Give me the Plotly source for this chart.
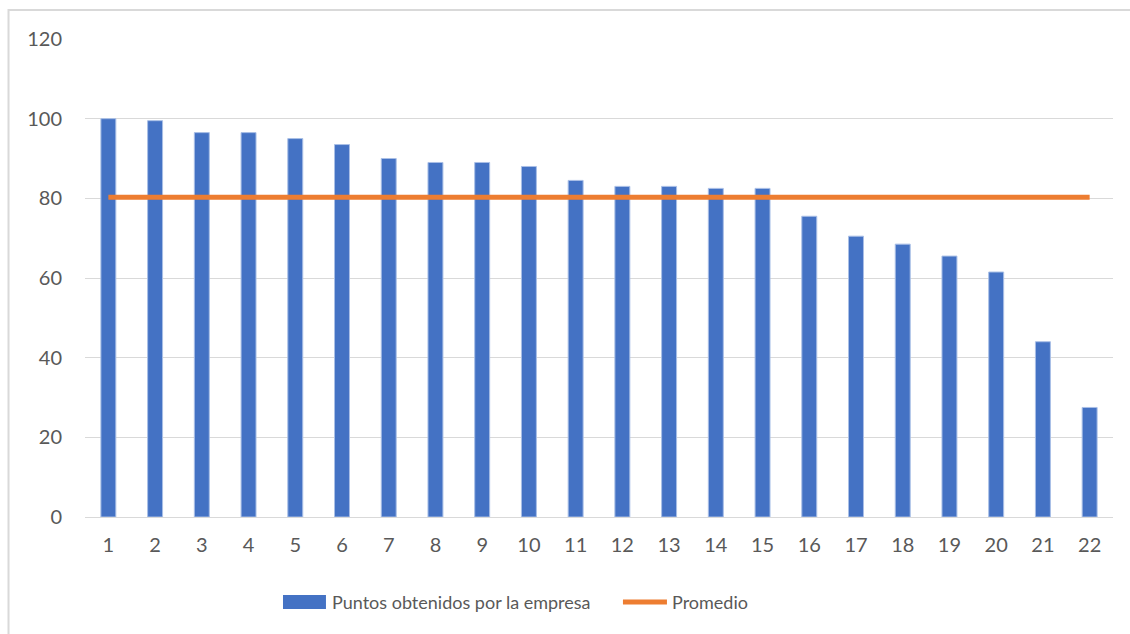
import plotly.graph_objects as go

# Puntaje por empresa (ordenado de mayor a menor) y promedio del grupo
empresas = [str(i) for i in range(1, 23)]
puntos = [100, 99.5, 96.5, 96.5, 95, 93.5, 90, 89, 89, 88, 84.5,
          83, 83, 82.5, 82.5, 75.5, 70.5, 68.5, 65.5, 61.5, 44, 27.5]
promedio_valor = 80.25
promedio = [promedio_valor] * len(empresas)
y_ticks = [0, 20, 40, 60, 80, 100, 120]

FONT = "Lato"
TXT = "#595959"
GRID = "#D9D9D9"
AZUL = "#4472C4"
NARANJA = "#ED7D31"

fig = go.Figure()
fig.add_trace(go.Bar(
    x=empresas, y=puntos, name="Puntos obtenidos por la empresa",
    marker=dict(color=AZUL, line=dict(color="#A9BFE6", width=1)),
    showlegend=False,
))
fig.add_trace(go.Scatter(
    x=empresas, y=promedio, name="Promedio", mode="lines",
    line=dict(color=NARANJA, width=5), showlegend=False,
))

# Leyenda dibujada a mano: rectángulo ancho para las barras y trazo para la línea
leg_y = -0.178
shapes = [
    dict(type="rect", xref="paper", yref="paper",
         x0=-0.0744, x1=1.03, y0=-0.27, y1=1.0607,
         line=dict(color=GRID, width=2), fillcolor="rgba(0,0,0,0)",
         layer="below"),
    dict(type="rect", xref="paper", yref="paper",
         x0=0.1926, x1=0.2344, y0=-0.1925, y1=-0.1632,
         line=dict(width=0), fillcolor=AZUL),
    dict(type="line", xref="paper", yref="paper",
         x0=0.5233, x1=0.5661, y0=leg_y, y1=leg_y,
         line=dict(color=NARANJA, width=5)),
]
annotations = [
    dict(text="Puntos obtenidos por la empresa", xref="paper", yref="paper",
         x=0.2383, y=leg_y, xanchor="left", yanchor="middle",
         showarrow=False, font=dict(family=FONT, size=18, color=TXT)),
    dict(text="Promedio", xref="paper", yref="paper",
         x=0.569, y=leg_y, xanchor="left", yanchor="middle",
         showarrow=False, font=dict(family=FONT, size=18, color=TXT)),
]

fig.update_layout(
    width=1130, height=634,
    margin=dict(l=85, r=17, t=39, b=117),
    paper_bgcolor="white", plot_bgcolor="white",
    bargap=0.68,
    font=dict(family=FONT, size=18, color=TXT),
    xaxis=dict(type="category", showgrid=False, showline=False,
               zeroline=False, ticks="", ticklabelstandoff=14,
               tickfont=dict(family=FONT, size=20, color=TXT)),
    yaxis=dict(range=[0, 120], tickvals=y_ticks, showgrid=True,
               gridcolor=GRID, gridwidth=1, zeroline=True,
               zerolinecolor=GRID, zerolinewidth=1, showline=False,
               ticks="", ticklabelstandoff=22,
               tickfont=dict(family=FONT, size=20, color=TXT)),
    shapes=shapes,
    annotations=annotations,
)

fig.write_html("out.html")
